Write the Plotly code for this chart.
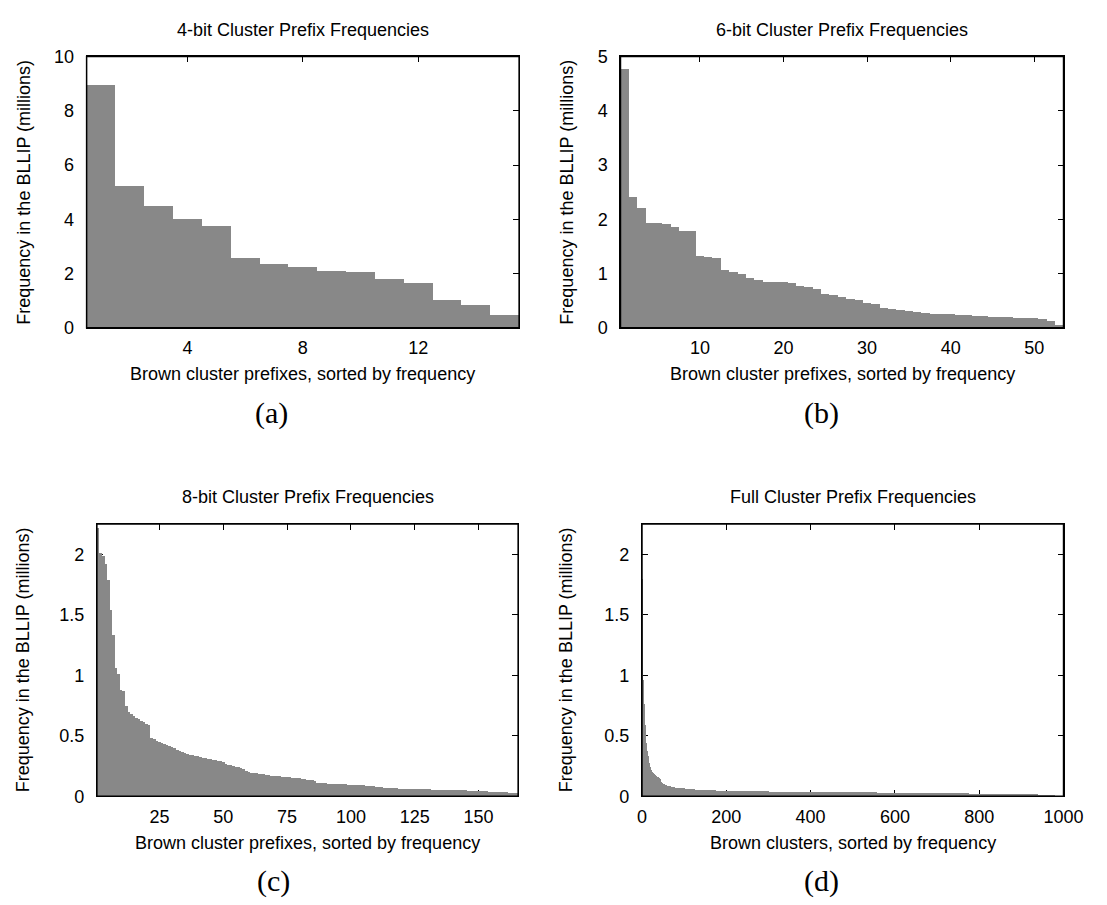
import plotly.graph_objects as go

# ---------------- data (frequencies in millions, sorted by rank) ----------------
a_freq = [8.94, 5.22, 4.48, 4.02, 3.77, 2.59, 2.34, 2.24, 2.08, 2.04,
          1.80, 1.65, 1.03, 0.85, 0.49]

b_freq = [4.76, 2.41, 2.21, 1.94, 1.93, 1.92, 1.85, 1.79, 1.79, 1.33,
          1.31, 1.29, 1.06, 1.02, 0.99, 0.92, 0.89, 0.85, 0.84, 0.84,
          0.83, 0.77, 0.75, 0.71, 0.63, 0.61, 0.56, 0.54, 0.52, 0.45,
          0.44, 0.36, 0.35, 0.32, 0.31, 0.29, 0.27, 0.26, 0.26, 0.25,
          0.24, 0.23, 0.22, 0.22, 0.20, 0.20, 0.20, 0.19, 0.19, 0.18,
          0.16, 0.12, 0.06]

c_freq = [2.22, 2.01, 1.99, 1.92, 1.79, 1.54, 1.33, 1.06, 1.01, 0.88,
          0.87, 0.75, 0.70, 0.68, 0.665, 0.645, 0.635, 0.625, 0.61, 0.60,
          0.59, 0.485, 0.47, 0.456, 0.445, 0.437, 0.43, 0.42, 0.412, 0.404,
          0.395, 0.385, 0.377, 0.366, 0.357, 0.348, 0.343, 0.339, 0.335, 0.330,
          0.325, 0.320, 0.315, 0.310, 0.305, 0.300, 0.296, 0.292, 0.288, 0.283,
          0.266, 0.260, 0.255, 0.250, 0.245, 0.240, 0.235, 0.228, 0.205, 0.198,
          0.195, 0.192, 0.189, 0.186, 0.183, 0.180, 0.177, 0.174, 0.170, 0.168,
          0.166, 0.164, 0.162, 0.160, 0.158, 0.156, 0.154, 0.152, 0.150, 0.148,
          0.142, 0.140, 0.138, 0.135, 0.132, 0.128, 0.112, 0.108, 0.107, 0.106,
          0.105, 0.104, 0.103, 0.102, 0.101, 0.100, 0.099, 0.098, 0.097, 0.096,
          0.095, 0.094, 0.093, 0.092, 0.091, 0.088, 0.086, 0.084, 0.082, 0.080,
          0.077, 0.074, 0.071, 0.069, 0.067, 0.066, 0.065, 0.064, 0.063, 0.062,
          0.062, 0.061, 0.060, 0.060, 0.059, 0.058, 0.058, 0.057, 0.057, 0.056,
          0.056, 0.055, 0.055, 0.054, 0.054, 0.053, 0.053, 0.052, 0.052, 0.051,
          0.051, 0.050, 0.050, 0.049, 0.048, 0.047, 0.046, 0.045, 0.044, 0.043,
          0.042, 0.041, 0.040, 0.039, 0.038, 0.037, 0.036, 0.035, 0.034, 0.033,
          0.032, 0.030, 0.028, 0.026, 0.024]

# full clusters: frequencies in thousands (converted to millions below)
d_freq_thousands = [
    1800, 1420, 1100, 960, 870, 760, 670, 590, 530, 480,
    440, 405, 375, 350, 330, 310, 292, 275, 258, 243,
    230, 221, 213, 207, 202, 198, 194, 190, 186, 183,
    180, 177, 174, 171, 168, 165, 162, 159, 156, 153,
    150, 147, 144, 141, 122, 116, 111, 108, 106, 104,
    102, 100, 98, 96, 94, 93, 92, 91, 90, 89,
    88, 87, 86, 85, 84, 83, 82, 81, 80, 79,
    78, 77, 76, 75, 75, 74, 74, 73, 73, 72,
    72, 71, 71, 70, 70, 69, 69, 68, 68, 67,
    67, 67, 66, 66, 66, 65, 65, 65, 64, 64,
    64, 63, 63, 63, 62, 62, 62, 61, 61, 61,
    60, 60, 60, 59, 59, 59, 58, 58, 58, 57,
    57, 57, 56, 56, 56, 55, 55, 55, 54, 54,
    54, 54, 54, 54, 54, 53, 53, 53, 53, 53,
    53, 53, 52, 52, 52, 52, 52, 52, 52, 51,
    51, 51, 51, 51, 51, 51, 50, 50, 50, 50,
    50, 50, 49, 49, 49, 49, 49, 49, 48, 48,
    48, 48, 48, 48, 47, 47, 47, 47, 47, 47,
    46, 46, 46, 46, 46, 46, 46, 46, 46, 46,
    46, 46, 46, 46, 46, 46, 46, 45, 45, 45,
    45, 45, 45, 45, 45, 45, 45, 45, 45, 45,
    45, 45, 45, 45, 44, 44, 44, 44, 44, 44,
    44, 44, 44, 44, 44, 44, 44, 44, 44, 44,
    44, 43, 43, 43, 43, 43, 43, 43, 43, 43,
    43, 43, 43, 43, 43, 43, 43, 43, 42, 42,
    42, 42, 42, 42, 42, 42, 42, 42, 42, 42,
    42, 42, 42, 42, 42, 41, 41, 41, 41, 41,
    41, 41, 41, 41, 41, 41, 41, 41, 41, 41,
    41, 41, 40, 40, 40, 40, 40, 40, 40, 40,
    40, 40, 40, 40, 40, 40, 40, 40, 40, 40,
    39, 39, 39, 39, 39, 39, 39, 39, 39, 39,
    39, 39, 39, 39, 39, 39, 39, 39, 39, 39,
    39, 39, 39, 39, 39, 39, 39, 39, 38, 38,
    38, 38, 38, 38, 38, 38, 38, 38, 38, 38,
    38, 38, 38, 38, 38, 38, 38, 38, 38, 38,
    38, 38, 38, 38, 38, 38, 37, 37, 37, 37,
    37, 37, 37, 37, 37, 37, 37, 37, 37, 37,
    37, 37, 37, 37, 37, 37, 37, 37, 37, 37,
    37, 37, 37, 37, 37, 36, 36, 36, 36, 36,
    36, 36, 36, 36, 36, 36, 36, 36, 36, 36,
    36, 36, 36, 36, 36, 36, 36, 36, 36, 36,
    36, 36, 36, 36, 35, 35, 35, 35, 35, 35,
    35, 35, 35, 35, 35, 35, 35, 35, 35, 35,
    35, 35, 35, 35, 35, 35, 35, 35, 35, 35,
    35, 35, 35, 34, 34, 34, 34, 34, 34, 34,
    34, 34, 34, 34, 34, 34, 34, 34, 34, 34,
    34, 34, 34, 34, 34, 34, 34, 34, 34, 34,
    34, 34, 33, 33, 33, 33, 33, 33, 33, 33,
    33, 33, 33, 33, 33, 33, 33, 33, 33, 33,
    33, 33, 33, 33, 33, 33, 33, 33, 33, 33,
    32, 32, 32, 32, 32, 32, 32, 32, 32, 32,
    32, 32, 32, 32, 32, 32, 32, 32, 32, 32,
    32, 32, 32, 32, 32, 32, 32, 32, 31, 31,
    31, 31, 31, 31, 31, 31, 31, 31, 31, 31,
    31, 31, 31, 31, 31, 31, 31, 31, 31, 31,
    31, 31, 31, 31, 31, 31, 31, 30, 30, 30,
    30, 30, 30, 30, 30, 30, 30, 30, 30, 30,
    30, 30, 30, 30, 30, 30, 30, 30, 30, 30,
    30, 30, 30, 30, 30, 30, 29, 29, 29, 29,
    29, 29, 29, 29, 29, 29, 29, 29, 29, 29,
    29, 29, 29, 29, 29, 29, 29, 29, 29, 29,
    29, 29, 29, 29, 29, 28, 28, 28, 28, 28,
    28, 28, 28, 28, 28, 28, 28, 28, 28, 28,
    28, 28, 28, 28, 28, 28, 28, 28, 28, 28,
    28, 28, 28, 28, 27, 27, 27, 27, 27, 27,
    27, 27, 27, 27, 27, 27, 27, 27, 27, 27,
    27, 27, 27, 27, 27, 27, 27, 27, 27, 27,
    27, 27, 26, 26, 26, 26, 26, 26, 26, 26,
    26, 26, 26, 26, 26, 26, 26, 26, 26, 26,
    26, 26, 26, 26, 26, 26, 26, 26, 26, 26,
    25, 25, 25, 25, 25, 25, 25, 25, 25, 25,
    25, 25, 25, 25, 25, 25, 25, 25, 25, 25,
    25, 25, 25, 25, 25, 24, 24, 24, 24, 24,
    24, 24, 24, 24, 24, 24, 24, 24, 24, 24,
    24, 24, 24, 24, 24, 24, 24, 24, 24, 24,
    23, 23, 23, 23, 23, 23, 23, 23, 23, 23,
    23, 23, 23, 23, 23, 23, 23, 23, 23, 23,
    23, 23, 23, 23, 23, 22, 22, 22, 22, 22,
    22, 22, 22, 22, 22, 22, 22, 22, 22, 22,
    22, 22, 22, 22, 22, 22, 22, 22, 22, 22,
    21, 21, 21, 21, 21, 21, 21, 21, 21, 21,
    21, 21, 21, 21, 21, 21, 21, 21, 21, 21,
    21, 21, 21, 21, 21, 20, 20, 20, 20, 20,
    20, 20, 20, 20, 20, 20, 20, 20, 20, 20,
    20, 20, 20, 20, 20, 20, 20, 20, 20, 20,
    19, 19, 19, 19, 19, 19, 19, 19, 19, 19,
    19, 19, 19, 19, 19, 19, 19, 19, 19, 19,
    19, 19, 19, 19, 19, 19, 19, 19, 19, 19,
    19, 19, 19, 19, 19, 19, 19, 19, 19, 19,
    18, 18, 18, 18, 18, 18, 18, 18, 18, 18,
    18, 18, 18, 18, 18, 18, 18, 18, 18, 18,
    17, 17, 17, 17, 17, 17, 17, 17, 17, 17,
    16, 16, 16, 16, 16, 16, 16, 16, 16, 16,
    15, 15, 15, 15, 15, 15, 15, 15, 15, 15,
    14, 14, 14, 14, 14, 14, 14, 14, 14, 14,
    13, 13, 13, 13, 13, 13, 13, 13, 12, 12,
    12, 12, 12, 12, 11, 11, 11, 11, 11, 10,
    10, 10, 10, 9, 9, 9, 9, 8, 8, 8,
]
d_freq = [v / 1000.0 for v in d_freq_thousands]

a_xticks = [4, 8, 12]
b_xticks = [10, 20, 30, 40, 50]
c_xticks = [25, 50, 75, 100, 125, 150]
d_xticks = [0, 200, 400, 600, 800, 1000]
a_yticks = [0, 2, 4, 6, 8, 10]
b_yticks = [0, 1, 2, 3, 4, 5]
cd_yticks = [0, 0.5, 1, 1.5, 2]

titles = ["4-bit Cluster Prefix Frequencies", "6-bit Cluster Prefix Frequencies",
          "8-bit Cluster Prefix Frequencies", "Full Cluster Prefix Frequencies"]
x_titles = ["Brown cluster prefixes, sorted by frequency",
            "Brown cluster prefixes, sorted by frequency",
            "Brown cluster prefixes, sorted by frequency",
            "Brown clusters, sorted by frequency"]
y_title = "Frequency in the BLLIP (millions)"
sub_labels = ["(a)", "(b)", "(c)", "(d)"]

# ---------------- layout geometry (pixels) ----------------
W, H = 1107, 905
BAR = "#888888"
SANS = "Liberation Sans, Arial, Helvetica, sans-serif"
SERIF = "Liberation Serif, Times New Roman, serif"

panels = [
    dict(freq=a_freq, xr=[0.5, len(a_freq) + 0.5], yr=[0, 10], xt=a_xticks, yt=a_yticks,
         box=(83.5, 526.0, 47.5, 325.0), ytx=20, lab=(273, 412)),
    dict(freq=b_freq, xr=[0.5, len(b_freq) + 0.5], yr=[0, 5], xt=b_xticks, yt=b_yticks,
         box=(629.7, 1083.0, 47.5, 325.0), ytx=575.5, lab=(835, 412)),
    dict(freq=c_freq, xr=[0.5, len(c_freq) + 0.5], yr=[0, 2.25], xt=c_xticks, yt=cd_yticks,
         box=(94.0, 525.0, 525.7, 804.0), ytx=18.5, lab=(275, 891)),
    dict(freq=d_freq, xr=[0, 1000], yr=[0, 2.25], xt=d_xticks, yt=cd_yticks,
         box=(651.7, 1083.0, 525.7, 804.0), ytx=574, lab=(835, 891)),
]

fig = go.Figure()
annotations = []
shapes = []

for i, p in enumerate(panels, start=1):
    sfx = "" if i == 1 else str(i)
    xl, xr, yt, yb = p["box"]
    ranks = list(range(1, len(p["freq"]) + 1))
    fig.add_trace(go.Bar(
        x=ranks, y=p["freq"], width=1.0,
        xaxis="x" + sfx, yaxis="y" + sfx,
        marker=dict(color=BAR, line=dict(width=0)),
        showlegend=False, hoverinfo="skip",
    ))
    fig.layout["xaxis" + sfx] = dict(
        domain=[xl / W, xr / W], range=p["xr"], anchor="y" + sfx,
        tickmode="array", tickvals=p["xt"],
        ticks="inside", ticklen=6, tickwidth=1, tickcolor="black",
        showline=True, linecolor="black", linewidth=1, mirror="ticks",
        showgrid=False, zeroline=False, layer="below traces",
        tickfont=dict(family=SANS, size=18, color="black"),
        ticklabelstandoff=4, fixedrange=True,
    )
    fig.layout["yaxis" + sfx] = dict(
        domain=[1 - yb / H, 1 - yt / H], range=p["yr"], anchor="x" + sfx,
        tickmode="array", tickvals=p["yt"],
        ticks="inside", ticklen=6, tickwidth=1, tickcolor="black",
        showline=True, linecolor="black", linewidth=1, mirror="ticks",
        showgrid=False, zeroline=False, layer="below traces",
        tickfont=dict(family=SANS, size=18, color="black"),
        ticklabelstandoff=8, fixedrange=True,
    )
    # frame on top of the bars
    shapes.append(dict(type="rect", xref="x" + sfx + " domain", yref="y" + sfx + " domain",
                       x0=0, x1=1, y0=0, y1=1, line=dict(color="black", width=1.5),
                       layer="above"))
    cx = (xl + xr) / 2
    cy = (yt + yb) / 2
    annotations.append(dict(text=titles[i - 1], x=cx / W, y=1 - (yt - 27.5) / H,
                            xref="paper", yref="paper", xanchor="center", yanchor="middle",
                            showarrow=False, font=dict(family=SANS, size=18, color="black")))
    annotations.append(dict(text=x_titles[i - 1], x=cx / W, y=1 - (yb + 47.5) / H,
                            xref="paper", yref="paper", xanchor="center", yanchor="middle",
                            showarrow=False, font=dict(family=SANS, size=18, color="black")))
    annotations.append(dict(text=y_title, x=p["ytx"] / W, y=1 - cy / H, textangle=-90,
                            xref="paper", yref="paper", xanchor="center", yanchor="middle",
                            showarrow=False, font=dict(family=SANS, size=18, color="black")))
    annotations.append(dict(text=sub_labels[i - 1], x=p["lab"][0] / W, y=1 - p["lab"][1] / H,
                            xref="paper", yref="paper", xanchor="center", yanchor="middle",
                            showarrow=False, font=dict(family=SERIF, size=30, color="black")))

fig.update_layout(
    width=W, height=H, autosize=False,
    margin=dict(l=0, r=0, t=0, b=0),
    paper_bgcolor="white", plot_bgcolor="white",
    bargap=0, barmode="overlay",
    annotations=annotations, shapes=shapes,
    showlegend=False,
)

fig.write_html("out.html",
               config={"displayModeBar": False, "staticPlot": True},
               post_script="document.body.style.margin='0px';document.body.style.overflow='hidden';")
